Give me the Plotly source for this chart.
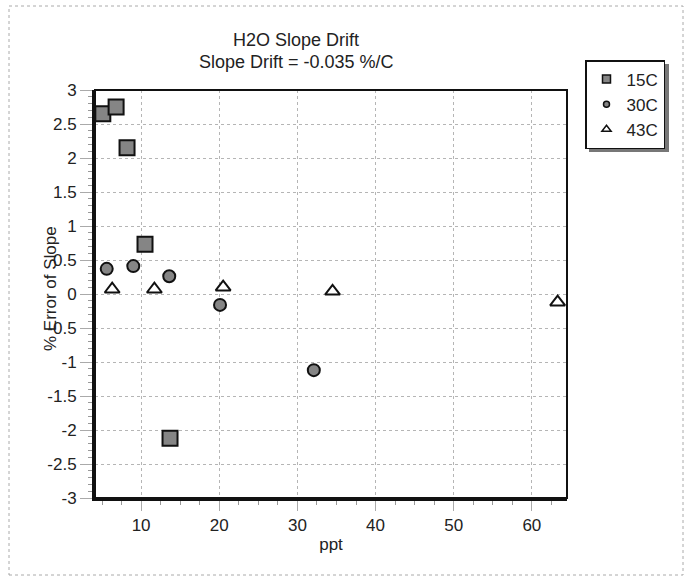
import plotly.graph_objects as go

# ---- data ----
x15 = [5.1, 6.8, 8.2, 10.5, 13.7]
y15 = [2.65, 2.75, 2.15, 0.73, -2.12]
x30 = [5.6, 9.0, 13.6, 20.1, 32.1]
y30 = [0.37, 0.41, 0.26, -0.16, -1.12]
x43 = [6.3, 11.7, 20.5, 34.5, 63.3]
y43 = [0.07, 0.07, 0.10, 0.04, -0.12]
series_names = ["15C", "30C", "43C"]
title_lines = ["H2O Slope Drift", "Slope Drift = -0.035 %/C"]
x_tickvals = [10, 20, 30, 40, 50, 60]
x_ticktext = ["10", "20", "30", "40", "50", "60"]
y_tickvals = [3, 2.5, 2, 1.5, 1, 0.5, 0, -0.5, -1, -1.5, -2, -2.5, -3]
y_ticktext = ["3", "2.5", "2", "1.5", "1", "0.5", "0", "-0.5", "-1", "-1.5", "-2", "-2.5", "-3"]

FONT = "Liberation Sans, Arial, sans-serif"
W, H = 690, 576
L, R, T, B = 95, 123, 90, 78
pw, ph = W - L - R, H - T - B

def px_x(p):
    return (p - L) / pw

def px_y(p):
    return (H - B - p) / ph

fig = go.Figure()

styles = [
    dict(symbol="square", size=15, color="#858585", line=dict(color="#111", width=2)),
    dict(symbol="circle", size=12, color="#858585", line=dict(color="#111", width=2)),
    dict(symbol="triangle-up", size=13, color="white", line=dict(color="#111", width=2)),
]
leg_styles = [
    dict(symbol="square", size=8, color="#858585", line=dict(color="#111", width=1.5)),
    dict(symbol="circle", size=6, color="#858585", line=dict(color="#111", width=1.5)),
    dict(symbol="triangle-up", size=8, color="white", line=dict(color="#111", width=1.5)),
]
for xs, ys, name, st in zip([x15, x30, x43], [y15, y30, y43], series_names, styles):
    fig.add_trace(go.Scatter(x=xs, y=ys, mode="markers", name=name, marker=st, showlegend=False))
for name, ls in zip(series_names, leg_styles):
    fig.add_trace(go.Scatter(x=[None], y=[None], mode="markers", name=name, marker=ls, showlegend=True))

grid = dict(showgrid=True, gridcolor="#b5b5b5", griddash="dot", gridwidth=1)
fig.update_xaxes(range=[4.1, 64.5], tickvals=x_tickvals, ticktext=x_ticktext,
                 ticks="outside", ticklen=10, tickcolor="#aaa", tickwidth=1,
                 showline=True, linecolor="#111", linewidth=3, zeroline=False,
                 minor=dict(dtick=2.5, ticks="outside", ticklen=4, tickcolor="#999", showgrid=False),
                 tickfont=dict(family=FONT, size=17, color="#222"),
                 title=dict(text="ppt", font=dict(family=FONT, size=17, color="#222"), standoff=4),
                 **grid)
fig.update_yaxes(range=[-3, 3], tickvals=y_tickvals, ticktext=y_ticktext,
                 ticks="outside", ticklen=12, tickcolor="#aaa", tickwidth=1,
                 showline=True, linecolor="#111", linewidth=3, zeroline=False,
                 minor=dict(dtick=0.1, ticks="outside", ticklen=4, tickcolor="#999", showgrid=False),
                 tickfont=dict(family=FONT, size=17, color="#222"),
                 **grid)

shapes = [
    dict(type="rect", xref="paper", yref="paper", x0=0, x1=1, y0=0, y1=1,
         line=dict(color="#111", width=2), layer="above"),
    dict(type="rect", xref="paper", yref="paper", x0=px_x(9), x1=px_x(683), y0=px_y(575), y1=px_y(6),
         line=dict(color="#aaa", width=1, dash="dot")),
    dict(type="rect", xref="paper", yref="paper", x0=px_x(589), x1=px_x(669), y0=px_y(152), y1=px_y(64),
         line=dict(width=0), fillcolor="#777"),
]

annotations = [
    dict(text="% Error of Slope", xref="paper", yref="paper",
         x=px_x(50), y=px_y(289), textangle=-90, showarrow=False,
         font=dict(family=FONT, size=17, color="#222"), xanchor="center", yanchor="middle"),
]
for line, yy in zip(title_lines, [40, 62]):
    annotations.append(dict(text=line, xref="paper", yref="paper", x=px_x(296), y=px_y(yy),
                            showarrow=False, xanchor="center", yanchor="middle",
                            font=dict(family=FONT, size=18, color="#222")))

fig.update_layout(
    width=W, height=H,
    margin=dict(l=L, r=R, t=T, b=B),
    paper_bgcolor="white", plot_bgcolor="white",
    font=dict(family=FONT, color="#222"),
    legend=dict(x=px_x(585), xanchor="left", y=px_y(60), yanchor="top",
                bgcolor="white", bordercolor="#111", borderwidth=1.5,
                font=dict(family=FONT, size=17, color="#222"),
                itemwidth=30, tracegroupgap=0),
    shapes=shapes,
    annotations=annotations,
)

fig.write_html("out.html")
